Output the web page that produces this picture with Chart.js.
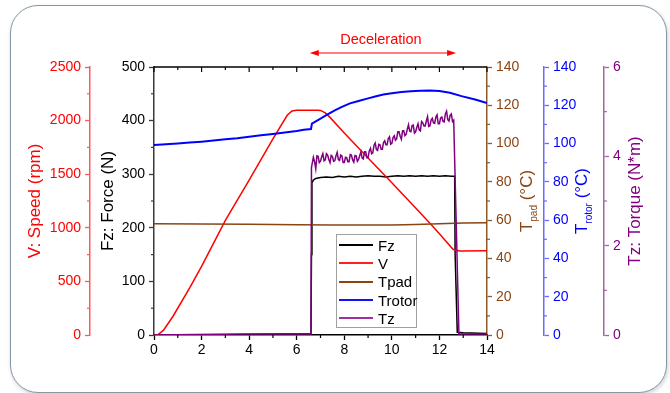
<!DOCTYPE html>
<html>
<head>
<meta charset="utf-8">
<script src="https://cdn.jsdelivr.net/npm/chart.js@4.4.0/dist/chart.umd.min.js"></script>
<style>
  html, body { margin: 0; padding: 0; background: #fff; }
  #wrap { position: relative; width: 670px; height: 393px; overflow: hidden; background: #fff; }
  #card { position: absolute; left: 10px; top: 5px; width: 655px; height: 386px; border: 1.5px solid #8596a3;
          border-radius: 28px; box-shadow: 1px 2px 4px rgba(0,0,0,0.18); background: #fff; }
  #chart { position: absolute; left: 0; top: 0; }
  #legend { position: absolute; left: 336px; top: 234px; width: 81px; height: 94px; box-sizing: border-box;
            border: 1px solid #a0a0a0; background: #fff; font: 15px "Liberation Sans", Arial, sans-serif; color: #000; }
  #legend .row { position: absolute; left: 2px; height: 18px; display: flex; align-items: center; }
  #legend .line { width: 34px; height: 2px; margin-right: 5px; }
</style>
</head>
<body>
<div id="wrap">
  <div id="card"></div>
  <canvas id="chart" width="670" height="393"></canvas>
  <div id="legend"></div>
</div>
<script>
// data (time in s)
const fzTime = [0, 3.5, 4.5, 5.5, 6.6, 6.62, 6.64, 6.7, 6.8, 7.0, 7.25, 7.5, 7.75, 8.0, 8.25, 8.5, 8.75, 9.0,
  9.25, 9.5, 9.75, 10.0, 10.25, 10.5, 10.75, 11.0, 11.25, 11.5, 11.75, 12.0, 12.25, 12.5, 12.64, 12.66, 12.75, 13.0, 14];
const fzValues = [0, 0.5, 1.5, 2, 2.5, 150, 284, 289, 292, 294, 295, 294, 296, 295, 296, 295, 296, 297,
  296, 296, 295, 296, 297, 296, 297, 296, 297, 296, 297, 296, 297, 296, 296, 150, 5, 4, 3];

const vTime = [0, 0.15, 0.4, 0.8, 1.5, 2, 3, 4, 5, 5.6, 5.8, 6.0, 6.9, 7.0, 7.2, 7.4, 8, 9, 10, 11, 11.6, 12, 12.57, 12.7, 12.86, 14];
const vValues = [0, 0, 45, 175, 440, 640, 1070, 1445, 1830, 2050, 2090, 2097, 2097, 2095, 2072, 2030, 1885, 1652, 1420, 1185, 1042, 945, 800, 790, 783, 785];

const tpadTime = [0, 2, 4, 6, 7.5, 9, 10, 11, 12, 13, 14];
const tpadValues = [58.1, 58.0, 57.8, 57.6, 57.4, 57.4, 57.5, 57.7, 58.1, 58.5, 58.7];

const trotorTime = [0, 0.5, 1, 1.5, 2, 2.5, 3, 3.5, 4, 4.5, 5, 5.5, 6, 6.3, 6.6, 6.64, 6.8, 7.0, 7.3, 7.6, 7.9, 8.24,
  8.6, 9.0, 9.3, 9.64, 10.0, 10.4, 10.8, 11.2, 11.6, 12.0, 12.44, 12.93, 13.5, 14];
const trotorValues = [99.3, 99.6, 100.0, 100.5, 101.0, 101.6, 102.2, 102.8, 103.6, 104.3, 105.0, 105.8, 106.6, 107.2, 107.6,
  110.4, 111.6, 113.0, 115.2, 117.3, 119.2, 121.0, 122.2, 123.6, 124.6, 125.6, 126.3, 126.9, 127.3, 127.6, 127.7, 127.4,
  126.5, 124.8, 123.0, 121.2];

const tzTime = [0, 3.5, 6.6, 6.62,
  6.7, 6.75, 6.8, 6.85, 6.9, 6.95, 7.0, 7.05, 7.1, 7.15, 7.2, 7.25, 7.3, 7.35, 7.4, 7.45, 7.5, 7.55, 7.6, 7.65,
  7.7, 7.75, 7.8, 7.85, 7.9, 7.95, 8.0, 8.05, 8.1, 8.15, 8.2, 8.25, 8.3, 8.35, 8.4, 8.45, 8.5, 8.55, 8.6, 8.65,
  8.7, 8.75, 8.8, 8.85, 8.9, 8.95, 9.0, 9.05, 9.1, 9.15, 9.2, 9.25, 9.3, 9.35, 9.4, 9.45, 9.5, 9.55, 9.6, 9.65,
  9.7, 9.75, 9.8, 9.85, 9.9, 9.95, 10.0, 10.05, 10.1, 10.15, 10.2, 10.25, 10.3, 10.35, 10.4, 10.45, 10.5, 10.55,
  10.6, 10.65, 10.7, 10.75, 10.8, 10.85, 10.9, 10.95, 11.0, 11.05, 11.1, 11.15, 11.2, 11.25, 11.3, 11.35, 11.4,
  11.45, 11.5, 11.55, 11.6, 11.65, 11.7, 11.75, 11.8, 11.85, 11.9, 11.95, 12.0, 12.05, 12.1, 12.15, 12.2, 12.25,
  12.3, 12.35, 12.4, 12.45, 12.5, 12.55, 12.6,
  12.82, 14];
const tzValues = [0, 0.02, 0.02, 3.75,
  3.98, 3.88, 3.72, 4.01, 4.00, 3.86, 3.89, 3.99, 4.06, 3.90, 3.92, 4.06, 4.03, 3.93, 3.86, 4.02, 4.00, 3.89, 3.90, 4.01,
  4.09, 3.93, 3.91, 4.03, 4.01, 3.86, 3.86, 3.98, 3.97, 3.88, 3.88, 4.04, 4.03, 3.92, 3.87, 4.02, 4.01, 3.89, 3.93, 4.02,
  4.10, 3.96, 3.94, 4.10, 4.10, 3.97, 3.97, 4.12, 4.18, 4.06, 4.08, 4.25, 4.30, 4.15, 4.13, 4.27, 4.26, 4.16, 4.16, 4.31,
  4.35, 4.26, 4.26, 4.40, 4.44, 4.27, 4.29, 4.42, 4.46, 4.36, 4.39, 4.55, 4.55, 4.45, 4.38, 4.57, 4.57, 4.46,
  4.49, 4.61, 4.71, 4.56, 4.55, 4.69, 4.70, 4.52, 4.55, 4.65, 4.73, 4.59, 4.57, 4.78, 4.75, 4.68, 4.68,
  4.79, 4.89, 4.67, 4.68, 4.81, 4.85, 4.75, 4.74, 4.88, 4.93, 4.73, 4.73, 4.86, 4.88, 4.78, 4.77, 4.95,
  5.01, 4.82, 4.79, 4.92, 4.95, 4.78, 4.81,
  0.02, 0.02];

const seriesNames = ['Fz', 'V', 'Tpad', 'Trotor', 'Tz'];
const seriesColors = ['#000000', '#ff0000', '#8b4513', '#0000ff', '#800080'];
const seriesWidths = [1.5, 1.5, 1.5, 2, 1.5];
const legendColors = ['#000000', '#ff2020', '#8b4513', '#1010ff', '#9b30a0'];
const decelRange = [6.55, 12.7];
const decelLabel = 'Deceleration';

const FAMILY = '"Liberation Sans", Arial, sans-serif';
const tickFont = { family: FAMILY, size: 14 };

function pts(xs, ys) { return xs.map((x, i) => ({ x: x, y: ys[i] })); }

function sideAxis(pos, weight, width, min, max, step, major, color, lineColor) {
  return {
    type: 'linear', position: pos, weight: weight, min: min, max: max,
    afterFit: s => { s.width = width; },
    border: { color: lineColor, width: 1.5 },
    grid: {
      drawOnChartArea: false, drawTicks: true, tickLength: 5, tickWidth: 1.3,
      tickColor: c => (c.tick && c.tick.value % major === 0) ? lineColor : 'rgba(0,0,0,0)'
    },
    ticks: { stepSize: step, autoSkip: false, color: color, font: tickFont, padding: 4,
      callback: v => (v % major === 0 ? v : '') }
  };
}

const scales = {
  x: {
    type: 'linear', position: 'bottom', min: 0, max: 14,
    afterFit: s => { s.height = 58; },
    border: { color: '#000', width: 1.5 },
    grid: { drawOnChartArea: false, tickLength: 5, tickWidth: 1.3,
      tickColor: c => (c.tick && c.tick.value % 2 === 0) ? '#000' : 'rgba(0,0,0,0)' },
    ticks: { stepSize: 1, autoSkip: false, maxRotation: 0, color: '#000', font: tickFont, padding: 2,
      callback: v => (v % 2 === 0 ? v : '') }
  },
  yV: sideAxis('left', 2, 90, 0, 2500, 250, 500, '#ff0000', '#ff5a5a'),
  yF: sideAxis('left', 1, 64, 0, 500, 50, 100, '#000000', '#3a3a3a'),
  yTpad: sideAxis('right', 1, 57, 0, 140, 10, 20, '#8b4513', '#8b5a2b'),
  yTrotor: sideAxis('right', 2, 60, 0, 140, 10, 20, '#0000ff', '#6a6aff'),
  yTz: sideAxis('right', 3, 66, 0, 6, 1, 2, '#800080', '#a564a5')
};

const minorSpec = { x: 2, yV: 500, yF: 100, yTpad: 20, yTrotor: 20, yTz: 2 };
const lineColors = { x: '#000', yV: '#ff5a5a', yF: '#3a3a3a', yTpad: '#8b5a2b', yTrotor: '#6a6aff', yTz: '#a564a5' };

// rotated axis titles (subscripts for the temperatures)
const titles = [
  { axis: 'yV', side: 'left', off: 55, color: '#ff0000', parts: [{ t: 'V: Speed (rpm)' }] },
  { axis: 'yF', side: 'left', off: 46, color: '#000000', parts: [{ t: 'Fz: Force (N)' }] },
  { axis: 'yTpad', side: 'right', off: 40, color: '#8b4513', parts: [{ t: 'T' }, { t: 'pad', sub: true }, { t: ' (°C)' }] },
  { axis: 'yTrotor', side: 'right', off: 38.5, color: '#0000ff', parts: [{ t: 'T' }, { t: 'rotor', sub: true }, { t: ' (°C)' }] },
  { axis: 'yTz', side: 'right', off: 31, color: '#800080', parts: [{ t: 'Tz: Torque (N*m)' }] }
];

const decorPlugin = {
  id: 'decor',
  afterDraw(chart) {
    const ctx = chart.ctx;
    const area = chart.chartArea;
    ctx.save();
    // minor ticks
    Object.keys(minorSpec).forEach(id => {
      const s = chart.scales[id];
      ctx.strokeStyle = lineColors[id];
      ctx.lineWidth = 1.2;
      s.ticks.forEach(t => {
        if (t.value % minorSpec[id] === 0) return;
        const p = s.getPixelForValue(t.value);
        ctx.beginPath();
        if (id === 'x') { ctx.moveTo(p, s.top); ctx.lineTo(p, s.top + 3); }
        else if (s.position === 'left') { ctx.moveTo(s.right, p); ctx.lineTo(s.right - 3, p); }
        else { ctx.moveTo(s.left, p); ctx.lineTo(s.left + 3, p); }
        ctx.stroke();
      });
    });
    // top frame with inward ticks
    const xs = chart.scales.x;
    ctx.strokeStyle = '#000';
    ctx.lineWidth = 1.5;
    ctx.beginPath();
    ctx.moveTo(area.left, area.top); ctx.lineTo(area.right, area.top);
    ctx.stroke();
    ctx.lineWidth = 1.2;
    xs.ticks.forEach(t => {
      const p = xs.getPixelForValue(t.value);
      ctx.beginPath();
      ctx.moveTo(p, area.top); ctx.lineTo(p, area.top + (t.value % 2 === 0 ? 5 : 3));
      ctx.stroke();
    });
    // axis titles
    titles.forEach(tt => {
      const s = chart.scales[tt.axis];
      const cx = tt.side === 'left' ? s.right - tt.off : s.left + tt.off;
      const cy = (s.top + s.bottom) / 2;
      ctx.save();
      ctx.translate(cx, cy);
      ctx.rotate(-Math.PI / 2);
      ctx.fillStyle = tt.color;
      ctx.textBaseline = 'middle';
      ctx.textAlign = 'left';
      let total = 0;
      const widths = tt.parts.map(p => {
        ctx.font = (p.sub ? 10 : 17) + 'px ' + FAMILY;
        const w = ctx.measureText(p.t).width;
        total += w;
        return w;
      });
      let x = -total / 2;
      tt.parts.forEach((p, i) => {
        ctx.font = (p.sub ? 10 : 17) + 'px ' + FAMILY;
        ctx.fillText(p.t, x, p.sub ? 7 : 0);
        x += widths[i];
      });
      ctx.restore();
    });
    // deceleration arrow
    const x0 = xs.getPixelForValue(decelRange[0]);
    const x1 = xs.getPixelForValue(decelRange[1]);
    const ay = area.top - 14;
    ctx.strokeStyle = '#ff0000';
    ctx.fillStyle = '#ff0000';
    ctx.lineWidth = 1.2;
    ctx.beginPath();
    ctx.moveTo(x0 + 6, ay); ctx.lineTo(x1 - 6, ay);
    ctx.stroke();
    ctx.beginPath();
    ctx.moveTo(x0, ay); ctx.lineTo(x0 + 9, ay - 3); ctx.lineTo(x0 + 9, ay + 3); ctx.closePath();
    ctx.moveTo(x1, ay); ctx.lineTo(x1 - 9, ay - 3); ctx.lineTo(x1 - 9, ay + 3); ctx.closePath();
    ctx.fill();
    ctx.font = '14.5px ' + FAMILY;
    ctx.textAlign = 'center';
    ctx.textBaseline = 'middle';
    ctx.fillText(decelLabel, (x0 + x1) / 2 - 2, ay - 13);
    ctx.restore();
  }
};

const allData = [
  { axis: 'yF', d: pts(fzTime, fzValues) },
  { axis: 'yV', d: pts(vTime, vValues) },
  { axis: 'yTpad', d: pts(tpadTime, tpadValues) },
  { axis: 'yTrotor', d: pts(trotorTime, trotorValues) },
  { axis: 'yTz', d: pts(tzTime, tzValues) }
];

new Chart(document.getElementById('chart'), {
  type: 'line',
  data: {
    datasets: allData.map((s, i) => ({
      label: seriesNames[i],
      data: s.d,
      yAxisID: s.axis,
      borderColor: seriesColors[i],
      borderWidth: seriesWidths[i],
      pointRadius: 0,
      tension: 0,
      order: 5 - i
    }))
  },
  options: {
    responsive: false,
    animation: false,
    layout: { padding: { left: 0, right: 0, top: 67, bottom: 0 } },
    plugins: { legend: { display: false }, tooltip: { enabled: false } },
    scales: scales
  },
  plugins: [decorPlugin]
});

// legend inside the plot
const legend = document.getElementById('legend');
const rowTops = [1, 19.3, 37.7, 56, 74.3];
seriesNames.forEach((name, i) => {
  const row = document.createElement('div');
  row.className = 'row';
  row.style.top = rowTops[i] + 'px';
  row.innerHTML = '<span class="line" style="background:' + legendColors[i] + '"></span><span>' + name + '</span>';
  legend.appendChild(row);
});
</script>
</body>
</html>
